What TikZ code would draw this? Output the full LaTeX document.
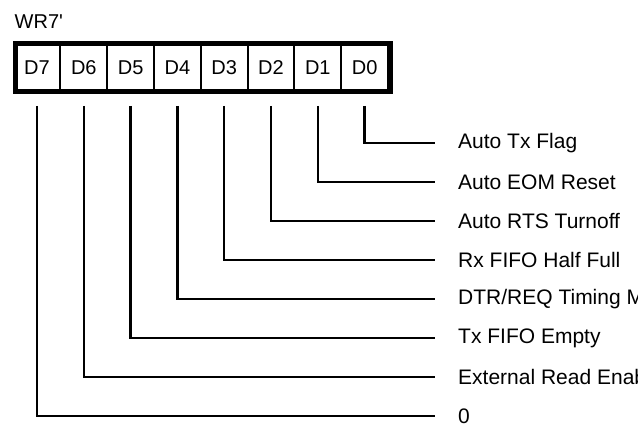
\documentclass[tikz,border=0pt]{standalone}
\usepackage{fontspec}
\setmainfont{Liberation Sans}
\usepackage{tikz}

\tikzset{
  every node/.style={font=\fontsize{21}{25}\selectfont},
  cell/.style={draw, line width=2, inner sep=0, minimum width=46.8, minimum height=48,
    font=\fontsize{20}{24}\selectfont},
  wire/.style={line width=2.4, shorten <=13.5, shorten >=23}
}

\begin{document}
\begin{tikzpicture}[x=1pt,y=1pt]
\def \cellw {46.8}
\def \gap {39}
\useasboundingbox (0,0) rectangle (638,-428);
\node[anchor=base west, inner sep=0, font=\fontsize{20}{24}\selectfont] (title) at (14.5,-28.5) {WR7\textquotesingle};
\foreach \b [count=\i from 0] in {7,6,...,0}
  {\node[cell] (d\b) at ({37+\cellw*\i},-67.5) {D\b};}
\draw[line width=5] (15.5,-43.5) rectangle (390.5,-91.5);
\foreach \b/\txt in {0/Auto Tx Flag, 1/Auto EOM Reset, 2/Auto RTS Turnoff,
    3/Rx FIFO Half Full, 4/{DTR/REQ Timing Mode}, 5/Tx FIFO Empty,
    6/External Read Enable, 7/0}
  {\node[anchor=west, inner sep=0] (l\b) at (458,{-143-\gap*\b}) {\txt};
   \draw[wire] (d\b.south) |- (l\b.west);}
\end{tikzpicture}
\end{document}
